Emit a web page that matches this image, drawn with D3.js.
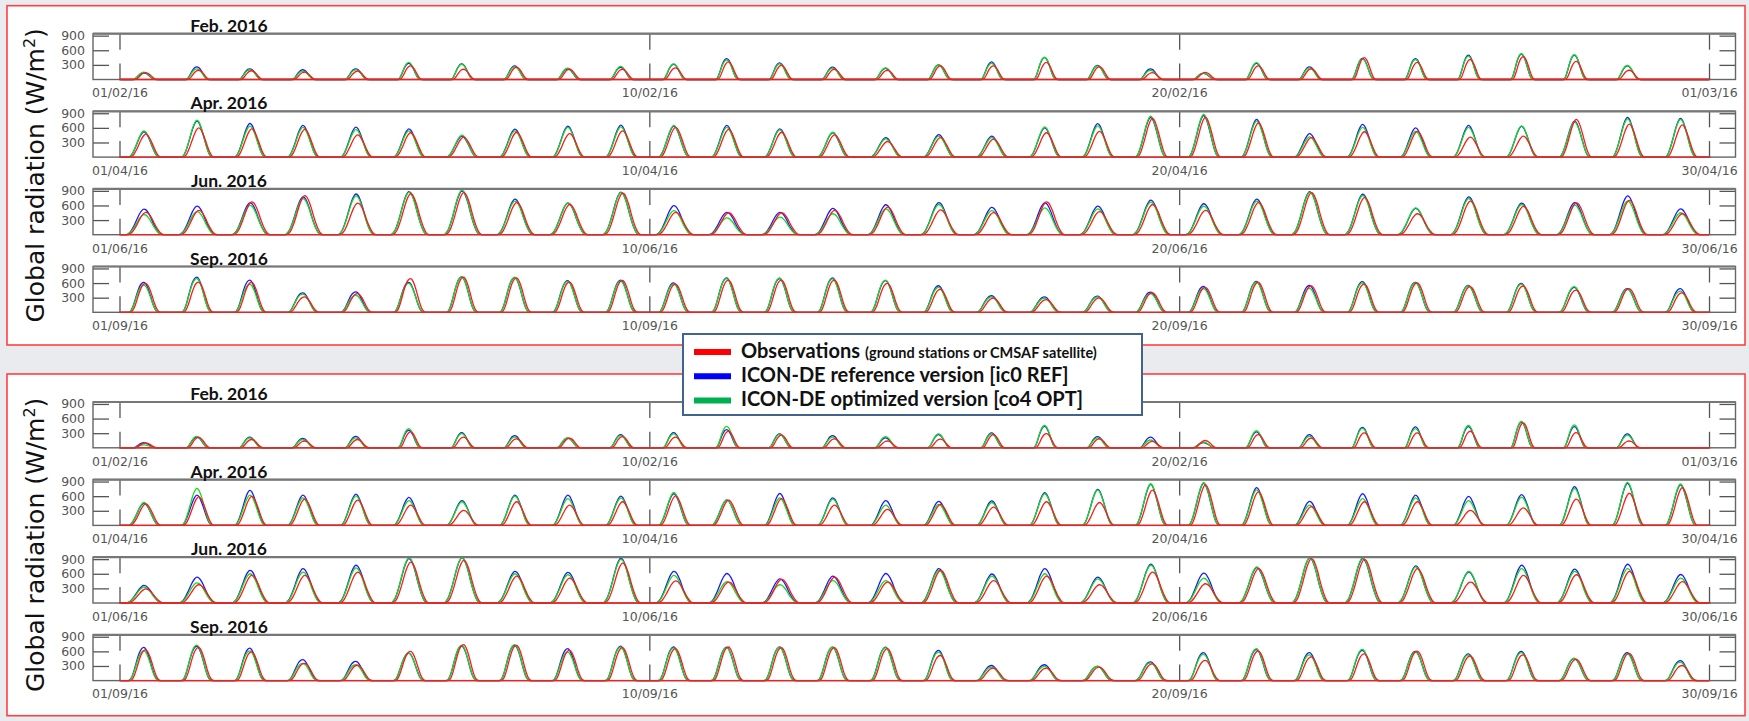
<!DOCTYPE html>
<html>
<head>
<meta charset="utf-8">
<script src="https://cdn.jsdelivr.net/npm/d3@7"></script>
<style>
  body { margin: 0; background: #e9ebef; }
  svg { display: block; }
</style>
</head>
<body>
<svg id="chart" width="1749" height="721"></svg>
<script>
// month panels, tick labels
const monthTitles = ["Feb. 2016", "Apr. 2016", "Jun. 2016", "Sep. 2016"];
const tickDays = [0, 10, 20, 30];
const tickLabels = [
    ["01/02/16", "10/02/16", "20/02/16", "01/03/16"],
    ["01/04/16", "10/04/16", "20/04/16", "30/04/16"],
    ["01/06/16", "10/06/16", "20/06/16", "30/06/16"],
    ["01/09/16", "10/09/16", "20/09/16", "30/09/16"]
];
const yTicks = [300, 600, 900];

// normalized diurnal shape per month, hourly 00..24 UTC
const profileFeb = [0,0,0,0,0,0,0,.1,.38,.7,.92,1,.92,.7,.4,.14,.02,0,0,0,0,0,0,0,0];
const profileApr = [0,0,0,0,0,.04,.16,.34,.55,.76,.92,1,.95,.8,.6,.38,.18,.05,0,0,0,0,0,0,0];
const profileJun = [0,0,0,0,.04,.12,.26,.43,.62,.8,.93,1,.97,.86,.7,.5,.32,.17,.06,.01,0,0,0,0,0];
const profileSep = [0,0,0,0,0,.04,.18,.4,.64,.84,.96,1,.94,.78,.56,.32,.13,.03,0,0,0,0,0,0,0];
const obsShiftHours = 0.8;

// daily peak radiation (W/m2), upper block
const topFebObs = [140,190,180,150,170,280,210,250,210,210,240,360,290,210,190,280,280,350,260,140,145,280,220,450,350,410,470,370,190,0];
const topFebRef = [135,260,220,200,220,330,320,280,220,250,310,430,340,255,230,300,360,450,290,220,125,330,260,435,430,500,520,500,280,0];
const topFebOpt = [150,220,200,170,200,350,310,260,235,270,320,400,320,235,240,300,330,460,280,190,130,345,240,420,410,480,530,510,290,0];

const topAprObs = [470,600,580,570,455,500,410,510,480,540,610,570,510,455,320,400,370,500,530,795,815,700,400,520,530,410,430,775,675,660];
const topAprRef = [520,740,690,650,615,580,430,575,635,655,635,650,580,500,400,460,430,600,685,815,850,775,480,670,600,650,630,740,815,795];
const topAprOpt = [540,760,635,610,565,540,450,540,610,620,650,610,560,510,375,430,400,620,640,840,875,740,415,610,530,610,640,720,785,775];

const topJunObs = [460,500,675,800,650,840,865,660,620,855,460,450,450,500,565,510,455,675,475,620,500,660,865,760,430,690,580,655,705,430];
const topJunRef = [525,585,655,775,835,885,895,730,650,875,595,460,460,540,615,660,560,655,585,710,635,730,885,830,540,775,650,660,795,530];
const topJunOpt = [415,475,600,740,795,870,918,690,655,865,495,345,360,430,530,620,495,550,530,670,585,690,870,805,550,740,620,605,690,450];

const topSepObs = [595,620,615,315,385,690,720,705,620,655,580,660,660,660,595,470,290,260,295,400,510,615,540,580,605,525,540,455,485,400];
const topSepRef = [615,720,660,400,420,615,725,710,650,660,605,705,690,705,650,545,340,315,330,415,530,635,550,630,615,550,595,510,485,485];
const topSepOpt = [560,690,575,375,350,595,730,720,635,640,580,690,705,685,660,510,315,290,315,385,485,620,490,605,605,540,580,525,470,435];

// daily peak radiation (W/m2), lower block
const botFebObs = [100,215,170,140,170,325,220,185,200,230,220,340,260,185,140,180,270,290,185,130,150,270,200,305,305,340,510,310,140,0];
const botFebRef = [105,220,220,195,235,360,310,250,200,270,310,375,285,250,205,270,305,440,230,220,105,325,270,420,430,435,525,435,285,0];
const botFebOpt = [60,235,205,170,205,395,290,220,205,250,285,440,275,220,230,285,285,460,205,160,115,350,235,400,395,460,540,470,260,0];

const botAprObs = [440,585,595,540,520,415,310,485,415,485,605,520,550,415,330,430,375,485,470,725,830,690,385,485,485,310,360,540,660,775];
const botAprRef = [455,620,720,620,640,575,510,620,620,600,650,525,655,565,510,495,505,670,740,840,865,775,495,650,620,595,630,795,865,830];
const botAprOpt = [470,760,620,565,605,510,485,600,550,565,675,520,565,540,415,430,470,650,725,855,875,730,415,550,565,510,580,760,885,850];

const botJunObs = [290,375,565,565,635,840,875,550,510,820,455,430,485,530,430,670,460,550,375,635,395,705,910,895,705,430,565,580,650,440];
const botJunRef = [360,530,670,705,775,910,925,650,630,918,650,605,495,550,605,705,595,705,530,795,615,725,925,910,760,635,775,695,795,585];
const botJunOpt = [325,415,600,635,720,930,925,600,580,895,565,440,375,460,460,670,550,600,495,775,510,740,930,930,740,650,705,650,705,510];

const botSepObs = [630,680,590,355,315,600,740,725,620,675,655,690,675,675,655,515,255,255,275,345,415,605,485,550,605,505,530,435,560,310];
const botSepRef = [680,705,665,430,395,565,710,725,655,705,690,685,690,685,685,620,310,325,290,385,575,635,575,620,600,550,600,450,575,410];
const botSepOpt = [610,730,610,355,325,560,725,740,585,690,670,675,685,690,675,585,275,290,295,365,540,655,530,640,585,530,575,460,550,380];

const seriesNames = [
    ["Observations", "(ground stations or CMSAF satellite)"],
    ["ICON-DE reference version [ic0 REF]", ""],
    ["ICON-DE optimized version [co4 OPT]", ""]
];

const profiles = [profileFeb, profileApr, profileJun, profileSep];
const blocks = [
    [[topFebObs, topFebRef, topFebOpt], [topAprObs, topAprRef, topAprOpt],
     [topJunObs, topJunRef, topJunOpt], [topSepObs, topSepRef, topSepOpt]],
    [[botFebObs, botFebRef, botFebOpt], [botAprObs, botAprRef, botAprOpt],
     [botJunObs, botJunRef, botJunOpt], [botSepObs, botSepRef, botSepOpt]]
];

const lineColors = ["#ff1a1a", "#1a1aff", "#18dc18"];
const legendColors = ["#ff0000", "#0000ff", "#00b050"];

let svg = d3.select("#chart");

let boxTops = [5.7, 374];
let boxH = [339.3, 341.7];
let panelLeft = 93, panelRight = 1735.5,
    panelH = 45.8, panelStep = 77.6;

let xScale = d3.scaleLinear()
    .domain([-0.5, 30.5])
    .range([0, panelRight - panelLeft]);

let yScale = d3.scaleLinear()
    .domain([0, 940])
    .range([panelH, 0]);

let line = d3.line()
    .x(d => xScale(d.t))
    .y(d => yScale(d.v))
    .curve(d3.curveMonotoneX);

function dayCurve(peaks, profile, shift) {
    let pts = [];
    peaks.forEach(function (p, day) {
        profile.forEach(function (f, h) {
            pts.push({t: day + (h + shift) / 24, v: p * f});
        });
    });
    return pts;
}

blocks.forEach(function (block, bi) {
    let top = boxTops[bi];

    svg.append("rect")
        .attr("x", 7).attr("y", top)
        .attr("width", 1738).attr("height", boxH[bi])
        .attr("fill", "#fff")
        .attr("stroke", "#ff4040")
        .attr("stroke-width", 1.6);

    let lbl = svg.append("text")
        .attr("transform", "translate(44," + (top + boxH[bi] / 2) + ") rotate(-90)")
        .attr("text-anchor", "middle")
        .style("font-family", "DejaVu Sans")
        .style("font-size", "25px")
        .style("fill", "#111");
    lbl.append("tspan").text("Global radiation (W/m");
    lbl.append("tspan").attr("dy", -9).style("font-size", "16px").text("2");
    lbl.append("tspan").attr("dy", 9).text(")");

    block.forEach(function (month, mi) {
        let py = top + 28 + mi * panelStep;
        let g = svg.append("g")
            .attr("transform", "translate(" + panelLeft + "," + py + ")");

        svg.append("text")
            .attr("x", 229).attr("y", py - 2)
            .attr("text-anchor", "middle")
            .style("font-family", "Lato")
            .style("font-weight", "bold")
            .style("font-size", "17.5px")
            .style("fill", "#111")
            .text(monthTitles[mi]);

        let w = panelRight - panelLeft;

        g.append("rect")
            .attr("width", w).attr("height", panelH)
            .attr("fill", "#fff");

        // series: ref, opt, then obs on top
        [1, 2, 0].forEach(function (si) {
            let shift = si === 0 ? obsShiftHours : 0;
            g.append("path")
                .attr("d", line(dayCurve(month[si], profiles[mi], shift)))
                .attr("fill", "none")
                .attr("stroke", lineColors[si])
                .attr("stroke-width", 1.3);
        });

        let axes = [
            g.append("g").attr("transform", "translate(0," + panelH + ")")
                .call(d3.axisBottom(xScale).tickValues(tickDays)
                    .tickSize(-16).tickPadding(9)
                    .tickFormat((d, i) => tickLabels[mi][i])),
            g.append("g")
                .call(d3.axisTop(xScale).tickValues(tickDays)
                    .tickSize(-16).tickFormat("")),
            g.append("g")
                .call(d3.axisLeft(yScale).tickValues(yTicks)
                    .tickSize(-16).tickPadding(8)),
            g.append("g").attr("transform", "translate(" + w + ",0)")
                .call(d3.axisRight(yScale).tickValues(yTicks)
                    .tickSize(-16).tickFormat(""))
        ];
        axes.forEach(function (a) {
            a.select(".domain").remove();
            a.selectAll("line").attr("stroke", "#555").attr("stroke-width", 1.3);
            a.selectAll("text")
                .style("font-family", "DejaVu Sans")
                .style("font-size", "12.5px")
                .attr("fill", "#555");
        });

        g.append("rect")
            .attr("width", w).attr("height", panelH)
            .attr("fill", "none")
            .attr("stroke", "#666")
            .attr("stroke-width", 1.4);
        g.append("line")
            .attr("x1", 0).attr("x2", w)
            .attr("y1", 0).attr("y2", 0)
            .attr("stroke", "#777").attr("stroke-width", 2.2);
        // keep observations baseline over frame
        g.append("line")
            .attr("x1", xScale(0)).attr("x2", xScale(30))
            .attr("y1", yScale(0)).attr("y2", yScale(0))
            .attr("stroke", lineColors[0]).attr("stroke-width", 1.3);
    });
});

// legend
let lg = svg.append("g").attr("transform", "translate(683,334)");
lg.append("rect")
    .attr("width", 459).attr("height", 81)
    .attr("fill", "#fff")
    .attr("stroke", "#41648f")
    .attr("stroke-width", 2);

seriesNames.forEach(function (s, i) {
    let cy = 18 + i * 24.2;
    lg.append("line")
        .attr("x1", 11).attr("x2", 48)
        .attr("y1", cy).attr("y2", cy)
        .attr("stroke", legendColors[i])
        .attr("stroke-width", 6);
    let t = lg.append("text")
        .attr("x", 58).attr("y", cy + 6)
        .style("font-family", "Lato")
        .style("font-weight", "bold")
        .style("font-size", "20px")
        .style("fill", "#111");
    t.append("tspan").text(s[0]);
    if (s[1]) {
        t.append("tspan").attr("dx", 5)
            .style("font-size", "14.5px")
            .text(s[1]);
    }
});
</script>
</body>
</html>
